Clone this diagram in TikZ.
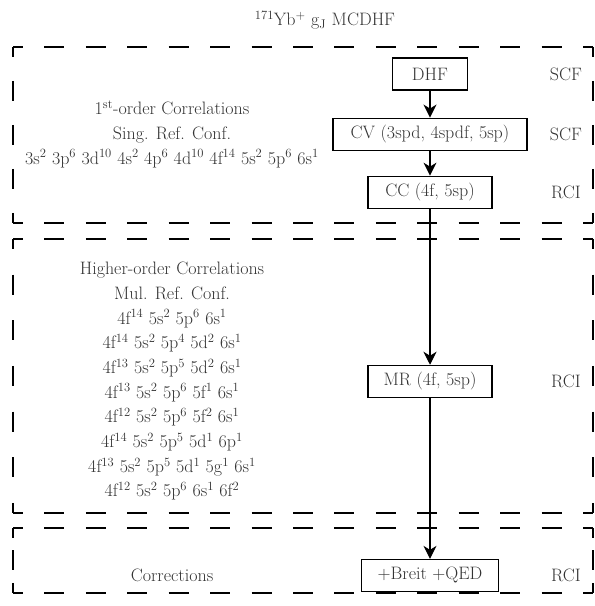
\documentclass[tikz,border=0pt]{standalone}
\usepackage{fontspec}
\usepackage{tikz}
\usetikzlibrary{arrows.meta,positioning}
\newcommand\diagfont{\fontsize{18}{24.7}\selectfont}
\newcommand\sups[1]{\textsuperscript{#1}}
\tikzset{
  stage/.style={draw, line width=1.1pt, minimum height=32pt, inner xsep=9pt, text=black!80},
  kind/.style={text=black!80},
  info/.style={align=center, text=black!80},
  frame/.style={line width=1.1pt, dash phase=10pt},
  arr/.style={-{Stealth[length=13pt,width=13pt,inset=4pt]}, line width=1.1pt}
}
\begin{document}
\begin{tikzpicture}[x=1pt, y=1pt, font=\diagfont]
\useasboundingbox (0,0) rectangle (595,606);

% dashed frames: top/bottom y, dashes per side
\foreach \ytop/\ybot/\n in {559/383/4, 367/93/6, 78/13/2}{
  \pgfmathsetlengthmacro\voff{(\ytop-\ybot)/\n-20}
  \draw[frame, dash pattern=on 20pt off 21.43pt] (13,\ytop) -- (593,\ytop);
  \draw[frame, dash pattern=on 20pt off 21.43pt] (13,\ybot) -- (593,\ybot);
  \draw[frame, dash pattern=on 20pt off \voff] (13,\ytop) -- (13,\ybot);
  \draw[frame, dash pattern=on 20pt off \voff] (593,\ytop) -- (593,\ybot);
}

\node[kind] (title) at (325,586) {\sups{171}Yb\sups{+} g\textsubscript{J} MCDHF};

% flow
\node[stage, minimum width=75pt] (dhf) at (430,532) {DHF};
\node[stage, minimum width=194pt, below=27pt of dhf] (cv) {CV (3spd, 4spdf, 5sp)};
\node[stage, minimum width=124pt, below=25pt of cv] (cc) {CC (4f, 5sp)};
\node[stage, minimum width=124pt, below=156pt of cc] (mr) {MR (4f, 5sp)};
\node[stage, minimum width=137pt, below=161pt of mr] (qed) {+Breit +QED};
\draw[arr] (dhf) -- (cv);
\draw[arr] (cv) -- (cc);
\draw[arr] (cc) -- (mr);
\draw[arr] (mr) -- (qed);

% method labels
\node[kind] (m1) at (dhf -| 566,0) {SCF};
\node[kind] (m2) at (cv -| 566,0) {SCF};
\node[kind] (m3) at (cc -| 566,0) {RCI};
\node[kind] (m4) at (mr -| 566,0) {RCI};
\node[kind] (m5) at (qed -| 566,0) {RCI};

% left descriptions
\node[info] (first) at (cv -| 172,0) {1\sups{st}-order Correlations\\
  Sing. Ref. Conf.\\
  3s\sups{2} 3p\sups{6} 3d\sups{10} 4s\sups{2} 4p\sups{6} 4d\sups{10} 4f\sups{14} 5s\sups{2} 5p\sups{6} 6s\sups{1}};
\node[info] (higher) at (mr -| 172,0) {Higher-order Correlations\\
  Mul. Ref. Conf.\\
  4f\sups{14} 5s\sups{2} 5p\sups{6} 6s\sups{1}\\
  4f\sups{14} 5s\sups{2} 5p\sups{4} 5d\sups{2} 6s\sups{1}\\
  4f\sups{13} 5s\sups{2} 5p\sups{5} 5d\sups{2} 6s\sups{1}\\
  4f\sups{13} 5s\sups{2} 5p\sups{6} 5f\sups{1} 6s\sups{1}\\
  4f\sups{12} 5s\sups{2} 5p\sups{6} 5f\sups{2} 6s\sups{1}\\
  4f\sups{14} 5s\sups{2} 5p\sups{5} 5d\sups{1} 6p\sups{1}\\
  4f\sups{13} 5s\sups{2} 5p\sups{5} 5d\sups{1} 5g\sups{1} 6s\sups{1}\\
  4f\sups{12} 5s\sups{2} 5p\sups{6} 6s\sups{1} 6f\sups{2}};
\node[info] (corr) at (qed -| 172,0) {Corrections};
\end{tikzpicture}
\end{document}
